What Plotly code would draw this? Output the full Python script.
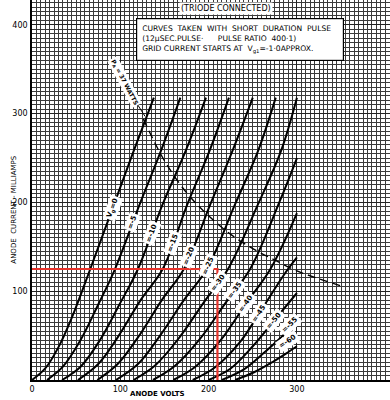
import numpy as np
import plotly.graph_objects as go

# ---------------- data ----------------
grid_volts = [0, -5, -10, -15, -20, -25, -30, -35, -40, -45, -50, -55, -60]

anode_volts = [
    [0, 15, 30, 45, 66, 90, 114, 138],
    [17, 35, 55, 75, 94, 122, 146, 168],
    [34, 55, 77, 99, 120, 148, 174, 197],
    [52, 75, 97, 123, 148, 176, 201, 223],
    [74, 97, 120, 147, 172, 202, 227, 250],
    [95, 120, 145, 172, 198, 230, 256, 276],
    [115, 140, 167, 195, 222, 256, 282, 300],
    [137, 162, 190, 220, 247, 280, 300],
    [160, 185, 213, 243, 270, 300],
    [182, 207, 235, 263, 285, 300],
    [200, 225, 250, 275, 300],
    [215, 240, 262, 282, 300],
    [230, 252, 272, 288, 300],
]
anode_ma = [
    [0, 13, 37, 70, 125, 190, 255, 318],
    [0, 15, 45, 85, 125, 198, 258, 318],
    [0, 15, 45, 85, 125, 198, 258, 318],
    [0, 18, 48, 90, 125, 198, 258, 318],
    [0, 18, 48, 90, 125, 198, 258, 318],
    [0, 18, 50, 90, 125, 198, 258, 318],
    [0, 17, 48, 88, 125, 198, 258, 318],
    [0, 16, 46, 88, 125, 200, 250],
    [0, 15, 44, 87, 125, 188],
    [0, 14, 42, 84, 118, 138],
    [0, 13, 38, 68, 98],
    [0, 12, 30, 48, 65],
    [0, 9, 20, 30, 38],
]

# anode dissipation limit Pa = 37 W
diss_volts = [126, 150, 175, 200, 225, 250, 275, 300, 325, 353]
diss_ma = [294, 247, 211, 185, 164, 148, 135, 123, 114, 105]

# operating point (red lines)
op_volts = 210
op_ma = 125

x_ticks = [0, 100, 200, 300]
y_ticks = [100, 200, 300, 400]

# ---------------- layout constants ----------------
label_ma = [194, 178, 165, 154, 140, 129, 110, 101, 86, 75, 67, 60, 34]
label_dy = [0, 0, 0, 0, 0, 0, 0, 0, 0, 0, 0, 2, 8]
label_dx = [0, 0, 0, 0, 0, 0, 0, 0, 0, 0, 0, -2, -4]
XR = [0, 405.4]
YR = [0, 428]
PX_X = 358 / (XR[1] - XR[0])
PX_Y = 380 / (YR[1] - YR[0])
FONT = "DejaVu Sans"

fig = go.Figure()

for va, ia in zip(anode_volts, anode_ma):
    fig.add_trace(go.Scatter(x=va, y=ia, mode="lines",
                             line=dict(color="black", width=2, shape="spline", smoothing=1.0),
                             hoverinfo="skip", showlegend=False))

fig.add_trace(go.Scatter(x=diss_volts, y=diss_ma, mode="lines",
                         line=dict(color="black", width=1.4, dash="8px,5px", shape="spline"),
                         hoverinfo="skip", showlegend=False))

fig.add_trace(go.Scatter(x=[0, op_volts, op_volts], y=[op_ma, op_ma, 0], mode="lines",
                         line=dict(color="#e8342c", width=2.2),
                         hoverinfo="skip", showlegend=False))

ann = []
for g, va, ia, lm, dx, dy in zip(grid_volts, anode_volts, anode_ma, label_ma, label_dx, label_dy):
    va = np.array(va, float); ia = np.array(ia, float)
    v = float(np.interp(lm, ia, va))
    k = int(np.clip(np.searchsorted(ia, lm), 1, len(ia) - 1))
    slope = (ia[k] - ia[k - 1]) / (va[k] - va[k - 1]) * PX_Y / PX_X
    ang = -np.degrees(np.arctan(slope))
    txt = "V<sub>g</sub>=0" if g == 0 else "=%d" % g
    ann.append(dict(x=v, y=lm, text="<b>%s</b>" % txt, showarrow=False,
                    textangle=ang, bgcolor="white", borderpad=1.5,
                    xshift=dx, yshift=dy,
                    font=dict(family=FONT, size=7, color="black")))

ann.append(dict(x=235.6, y=383,
                text="CURVES  TAKEN  WITH  SHORT  DURATION  PULSE<br>"
                     "(12\u03bcSEC.PULSE\u00b7      PULSE RATIO  400\u00b71)<br>"
                     "GRID CURRENT STARTS AT  V<sub>g1</sub>=-1\u00b70APPROX.",
                showarrow=False, align="left", bgcolor="white", bordercolor="black",
                borderwidth=1.2, borderpad=5, width=196,
                font=dict(family=FONT, size=7.6, color="black")))
ann.append(dict(x=219.7, y=418, text="(TRIODE CONNECTED)", showarrow=False,
                bgcolor="white", borderpad=1,
                font=dict(family=FONT, size=8, color="black")))
ann.append(dict(x=105, y=336, text="<b>P<sub>A</sub> = 37 WATTS</b>", showarrow=False,
                textangle=62, bgcolor="white", borderpad=1,
                font=dict(family=FONT, size=6, color="black")))
ann.append(dict(x=141.6, y=-0.036, xref="x", yref="paper", text="<b>ANODE VOLTS</b>",
                showarrow=False, xanchor="center", yanchor="middle",
                font=dict(family=FONT, size=7, color="black")))
ann.append(dict(x=-0.068, y=0.30, xref="paper", yref="paper",
                text="ANODE  CURRENT - MILLIAMPS", textangle=-90, showarrow=False,
                font=dict(family=FONT, size=7, color="black")))

shapes = [dict(type="line", x0=119, y0=311, x1=128, y1=297, xref="x", yref="y",
               line=dict(color="black", width=1))]

axis_common = dict(showline=True, linecolor="black", linewidth=1.5, zeroline=False,
                   showgrid=True, gridcolor="#222", gridwidth=1,
                   tickfont=dict(family=FONT, size=8, color="black"), ticks="",
                   ticklabelstandoff=1,
                   minor=dict(dtick=5, showgrid=True, gridcolor="#3a3a3a", gridwidth=0.8))

fig.update_layout(
    width=390, height=400, margin=dict(l=32, r=0, t=0, b=20),
    paper_bgcolor="white", plot_bgcolor="white",
    xaxis=dict(range=XR, tickvals=x_ticks, **axis_common),
    yaxis=dict(range=YR, tickvals=y_ticks, **axis_common),
    annotations=ann, shapes=shapes, showlegend=False,
)
fig.write_html("out.html")
